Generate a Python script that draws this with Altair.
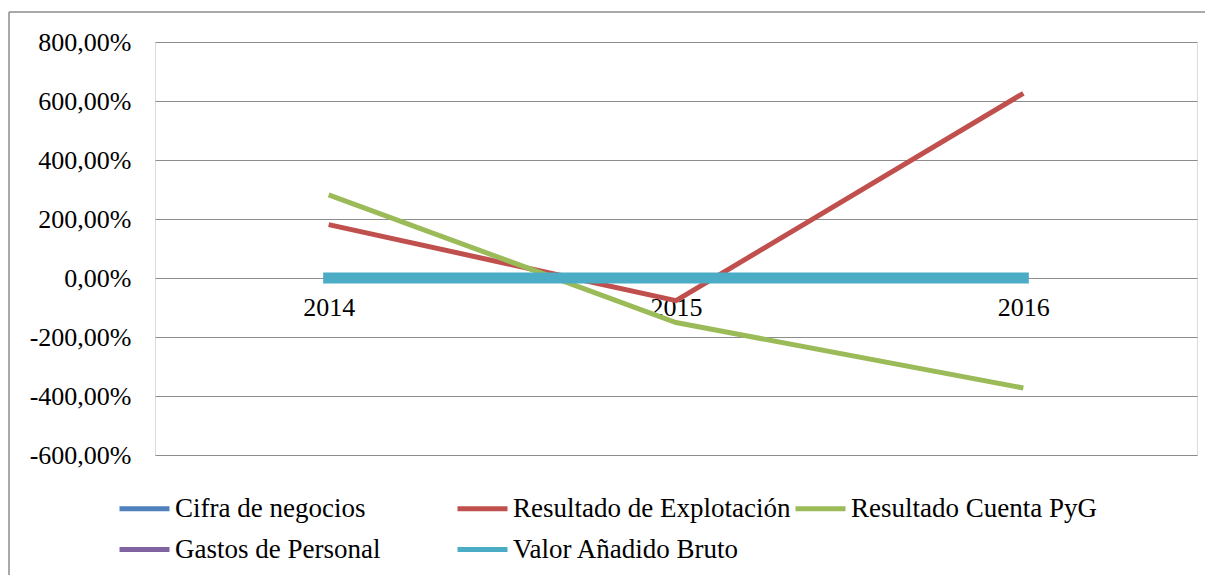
import altair as alt
import pandas as pd

years = ["2014", "2015", "2016"]
series_names = [
    "Cifra de negocios",
    "Resultado de Explotación",
    "Resultado Cuenta PyG",
    "Gastos de Personal",
    "Valor Añadido Bruto",
]
cifra_negocios = [0, 0, 0]
resultado_explotacion = [181, -77, 626]
resultado_pyg = [282, -151, -373]
gastos_personal = [0, 0, 0]
valor_anadido = [0, 0, 0]
colors = ["#4F81BD", "#C0504D", "#9BBB59", "#8064A2", "#4BACC6"]
y_ticks = [-600, -400, -200, 0, 200, 400, 600, 800]

values_by_series = [cifra_negocios, resultado_explotacion, resultado_pyg,
                    gastos_personal, valor_anadido]
rows = []
for name, vals in zip(series_names, values_by_series):
    for yr, v in zip(years, vals):
        rows.append({"Serie": name, "Año": yr, "Valor": v})
df = pd.DataFrame(rows)

FONT = "Liberation Serif, Times New Roman, serif"

x_enc = alt.X("Año:N", sort=years,
              scale=alt.Scale(type="point", padding=0.5),
              axis=alt.Axis(title=None, labelAngle=0, ticks=False, domain=False,
                            grid=False, offset=-177, labelPadding=16,
                            labelFontSize=26, labelFont=FONT, labelColor="#000000"))
y_enc = alt.Y("Valor:Q",
              scale=alt.Scale(domain=[-600, 800], nice=False, zero=False),
              axis=alt.Axis(title=None, values=y_ticks, ticks=False, domain=False,
                            grid=True, gridColor="#8C8C8C", gridWidth=1.2,
                            labelPadding=24, labelFontSize=26, labelFont=FONT,
                            labelColor="#000000",
                            labelExpr="(datum.value < 0 ? '-' : '') + replace(format(abs(datum.value), '.2f'), '.', ',') + '%'"))
color_enc = alt.Color("Serie:N",
                      scale=alt.Scale(domain=series_names, range=colors),
                      legend=alt.Legend(title=None, orient="none", legendX=-38, legendY=439,
                                        columns=3, gridAlign="all", columnPadding=-6,
                                        rowPadding=-4, symbolType="stroke",
                                        symbolSize=2500, symbolStrokeWidth=5,
                                        labelFontSize=27, labelFont=FONT,
                                        labelColor="#000000", labelOffset=3,
                                        labelLimit=400, direction="horizontal"))

one = pd.DataFrame({"k": [0]})
frame_top = alt.Chart(one).mark_rule(stroke="#8C8C8C", strokeWidth=1.5).encode(
    x=alt.value(-146), x2=alt.value(1057), y=alt.value(-30))
frame_left = alt.Chart(one).mark_rule(stroke="#8C8C8C", strokeWidth=1.5).encode(
    x=alt.value(-146), y=alt.value(-30), y2=alt.value(540))

thin = alt.Chart(df).transform_filter(
    alt.datum.Serie != "Valor Añadido Bruto"
).mark_line(strokeWidth=5).encode(x=x_enc, y=y_enc, color=color_enc)

thick = alt.Chart(df).transform_filter(
    alt.datum.Serie == "Valor Añadido Bruto"
).mark_line(strokeWidth=11, strokeCap="square").encode(x=x_enc, y=y_enc, color=color_enc)

chart = alt.layer(frame_top, frame_left, thin, thick).properties(
    width=1042, height=413,
    autosize=alt.AutoSizeParams(type="none"),
    padding={"left": 147, "top": 34, "right": 8, "bottom": 120},
).configure_view(strokeWidth=0).configure(background="#FFFFFF")

chart.save("out.html", embed_options={"renderer": "svg", "actions": False})
